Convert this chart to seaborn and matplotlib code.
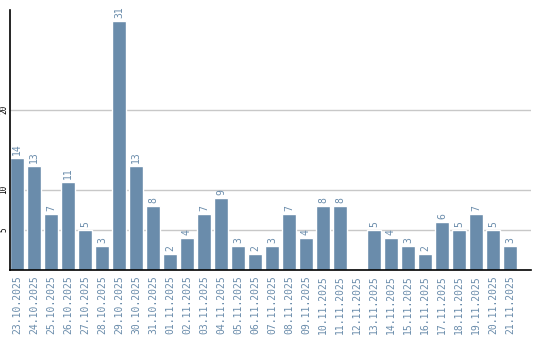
import matplotlib
matplotlib.use("Agg")
import matplotlib.pyplot as plt
import seaborn as sns
import pandas as pd

dates = ["23.10.2025", "24.10.2025", "25.10.2025", "26.10.2025", "27.10.2025",
         "28.10.2025", "29.10.2025", "30.10.2025", "31.10.2025", "01.11.2025",
         "02.11.2025", "03.11.2025", "04.11.2025", "05.11.2025", "06.11.2025",
         "07.11.2025", "08.11.2025", "09.11.2025", "10.11.2025", "11.11.2025",
         "12.11.2025", "13.11.2025", "14.11.2025", "15.11.2025", "16.11.2025",
         "17.11.2025", "18.11.2025", "19.11.2025", "20.11.2025", "21.11.2025"]
counts = [14, 13, 7, 11, 5, 3, 31, 13, 8, 2,
          4, 7, 9, 3, 2, 3, 7, 4, 8, 8,
          0, 5, 4, 3, 2, 6, 5, 7, 5, 3]
yticks = [5, 10, 20]

bar_color = "#6a8cab"
sns.set_style("white")
plt.rcParams["font.family"] = ["DejaVu Sans Mono", "DejaVu Sans"]

df = pd.DataFrame({"date": dates, "count": counts})

fig = plt.figure(figsize=(5.4, 3.4), dpi=100)
ax = fig.add_axes([10 / 540, 70 / 340, 521 / 540, 260 / 340])
sns.barplot(data=df, x="date", y="count", color=bar_color, saturation=1,
            width=0.82, ax=ax, zorder=2)

for i, v in enumerate(counts):
    if v > 0:
        ax.annotate(str(v), (i, v), xytext=(0, 2), textcoords="offset points",
                    rotation=90, ha="center", va="bottom", fontsize=7,
                    color=bar_color)

ax.set_xlim(-0.41, 30.24)
ax.set_ylim(0, 32.4)
ax.set_yticks(yticks)
ax.set_yticklabels([str(t) for t in yticks], rotation=90, va="center",
                   fontsize=5.5, color="black")
ax.yaxis.grid(True, color="#c8c8c8", linewidth=1, zorder=0)
ax.set_axisbelow(True)
ax.tick_params(axis="x", labelrotation=90, labelsize=7, labelcolor=bar_color,
               length=0, pad=4)
ax.tick_params(axis="y", length=0, pad=1)
ax.set_xlabel("")
ax.set_ylabel("")
for s in ["top", "right"]:
    ax.spines[s].set_visible(False)
for s in ["left", "bottom"]:
    ax.spines[s].set_color("black")
    ax.spines[s].set_linewidth(1.2)

fig.savefig("out.png", dpi=100)
